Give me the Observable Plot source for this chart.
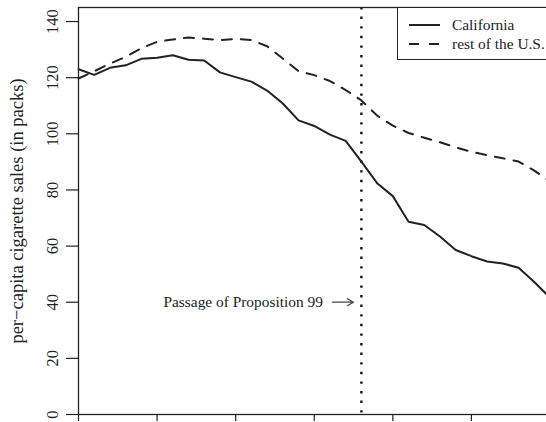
<!DOCTYPE html>
<html>
<head>
<meta charset="utf-8">
<script src="https://cdn.jsdelivr.net/npm/d3@7"></script>
<script src="https://cdn.jsdelivr.net/npm/@observablehq/plot@0.6"></script>
<style>
  html, body { margin: 0; padding: 0; background: #fff; overflow: hidden; }
  #wrap { position: relative; width: 546px; height: 422px; overflow: hidden; }
  #legend {
    position: absolute; left: 397px; top: 7px; width: 170px; height: 53px;
    border: 1.3px solid #222; box-sizing: border-box; background: #fff;
    font-family: "Liberation Serif", serif; font-size: 15.4px; color: #222;
  }
  #legend .row { position: absolute; left: 11px; height: 19px; display: flex; align-items: center; }
  #legend svg { margin-right: 12px; }
</style>
</head>
<body>
<div id="wrap">
  <div id="chart"></div>
  <div id="legend">
    <div class="row" style="top: 7px;">
      <svg width="31" height="4"><line x1="0" x2="31" y1="2" y2="2" stroke="#222" stroke-width="2"/></svg>
      <span>California</span>
    </div>
    <div class="row" style="top: 26px;">
      <svg width="31" height="4"><line x1="0" x2="31" y1="2" y2="2" stroke="#222" stroke-width="2" stroke-dasharray="10,10"/></svg>
      <span>rest of the U.S.</span>
    </div>
  </div>
</div>
<script>
// Per-capita cigarette sales, 1970–2000
const years = d3.range(1970, 2001);
const california = [
  123.0, 121.0, 123.5, 124.4, 126.7, 127.1, 128.0, 126.4, 126.1, 121.9,
  120.2, 118.6, 115.4, 110.8, 104.8, 102.8, 99.7, 97.5, 90.1, 82.4,
  77.8, 68.7, 67.5, 63.4, 58.6, 56.4, 54.5, 53.8, 52.3, 47.2, 41.6
];
const restOfUS = [
  119.7, 122.3, 125.0, 127.4, 130.5, 132.8, 133.6, 134.3, 133.9, 133.4,
  133.8, 133.4, 131.2, 126.8, 122.3, 120.9, 118.8, 115.6, 111.9, 106.5,
  102.9, 100.3, 98.6, 97.0, 95.2, 93.6, 92.4, 91.3, 90.1, 86.9, 83.0
];
const xTicks = [1970, 1975, 1980, 1985, 1990, 1995, 2000];
const yTicks = [0, 20, 40, 60, 80, 100, 120, 140];
const yTitle = "per\u2212capita cigarette sales (in packs)";
const treatYear = 1988;
const annotation = "Passage of Proposition 99";
const annotationLevel = 40;

const caRows = years.map((year, i) => ({year, value: california[i]}));
const usRows = years.map((year, i) => ({year, value: restOfUS[i]}));

const ink = "#222";
const fontSize = 15.4;

const chart = Plot.plot({
  width: 546,
  height: 422,
  marginLeft: 78,
  marginRight: -3.5,
  marginTop: 7,
  marginBottom: 8,
  style: {fontFamily: "'Liberation Serif', serif", fontSize: fontSize + "px", background: "#fff", color: ink},
  x: {domain: [1970, 2000]},
  y: {domain: [0, 145]},
  marks: [
    Plot.axisX(xTicks, {tickSize: 7, fill: "none", stroke: ink, strokeWidth: 1.2, label: null}),
    Plot.axisY(yTicks, {tickSize: 12, fill: "none", stroke: ink, strokeWidth: 1.2, label: null}),
    Plot.text(yTicks, {y: d => d, text: d => String(d), frameAnchor: "left", textAnchor: "middle", dx: -26, rotate: -90, fill: ink, fontSize: 16.5}),
    Plot.text([yTitle], {frameAnchor: "left", textAnchor: "middle", dx: -61, rotate: -90, fill: ink, fontSize: 18.5}),
    Plot.ruleX([treatYear], {stroke: "#111", strokeWidth: 2.4, strokeDasharray: "2.4,7.2"}),
    Plot.line(usRows, {x: "year", y: "value", stroke: ink, strokeWidth: 2, strokeDasharray: "10,9"}),
    Plot.line(caRows, {x: "year", y: "value", stroke: ink, strokeWidth: 2}),
    Plot.text([annotation], {x: treatYear, y: annotationLevel, dx: -38.5, textAnchor: "end", fill: ink, fontSize}),
    Plot.arrow([annotationLevel], {x1: treatYear - 2, x2: treatYear, y1: d => d, y2: d => d, insetStart: 2.5, insetEnd: 8, stroke: "#444", strokeWidth: 1.3, headLength: 8}),
    Plot.frame({stroke: ink, strokeWidth: 1.3})
  ]
});
document.getElementById("chart").appendChild(chart);
</script>
</body>
</html>
